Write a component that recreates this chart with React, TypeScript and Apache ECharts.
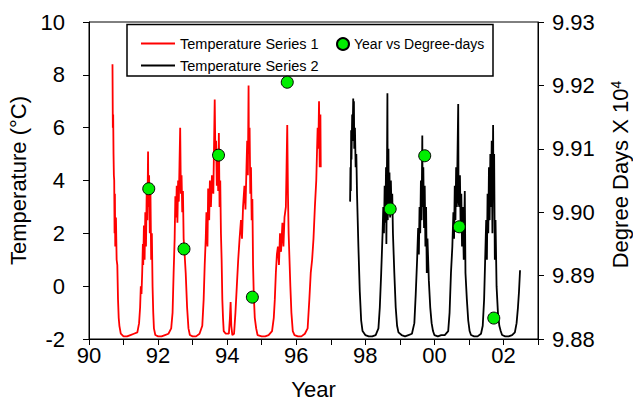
import React, { useEffect, useRef } from "react";
import * as echarts from "echarts";

// Temperature Series 1 (year, °C)
const tempSeries1: [number, number][] = [
  [90.68, 8.4], [90.69, 6.0], [90.7, 6.5], [90.71, 5.0], [90.72, 4.2], [90.73, 4.0], [90.74, 2.0],
  [90.75, 3.5], [90.76, 1.5], [90.78, 2.6], [90.8, 1.0], [90.82, 0.8], [90.84, -0.5], [90.86, -1.2],
  [90.88, -1.5], [90.92, -1.8], [91.0, -1.9], [91.1, -1.9], [91.2, -1.85], [91.3, -1.8], [91.4, -1.75],
  [91.45, -1.4], [91.48, -0.8], [91.5, 0.0], [91.52, -0.3], [91.54, 0.5], [91.56, 1.6], [91.57, 0.8],
  [91.59, 2.3], [91.61, 1.0], [91.63, 2.8], [91.65, 1.5], [91.67, 3.5], [91.69, 2.5], [91.71, 5.1],
  [91.72, 3.0], [91.74, 4.2], [91.76, 2.0], [91.78, 3.5], [91.8, 1.0], [91.82, 2.0], [91.84, 0.0],
  [91.86, -1.0], [91.88, -1.6], [91.92, -1.85], [92.0, -1.9], [92.1, -1.9], [92.2, -1.85], [92.3, -1.8],
  [92.38, -1.6], [92.42, -1.0], [92.45, 0.5], [92.48, 1.8], [92.5, 3.4], [92.52, 2.6], [92.54, 3.8],
  [92.56, 2.4], [92.58, 4.0], [92.6, 3.2], [92.62, 4.6], [92.64, 6.0], [92.66, 3.5], [92.68, 4.2],
  [92.7, 2.8], [92.72, 3.6], [92.74, 1.8], [92.76, 1.4], [92.8, 0.5], [92.84, -0.8], [92.88, -1.6],
  [92.92, -1.85], [93.0, -1.9], [93.1, -1.9], [93.2, -1.8], [93.28, -1.5], [93.32, -0.5], [93.35, 0.8],
  [93.38, 1.8], [93.4, 2.8], [93.43, 1.5], [93.45, 3.7], [93.48, 2.5], [93.5, 4.0], [93.53, 3.0],
  [93.56, 4.2], [93.6, 3.5], [93.64, 7.07], [93.66, 4.8], [93.68, 5.5], [93.7, 3.8], [93.72, 5.0],
  [93.74, 3.6], [93.76, 5.8], [93.78, 3.0], [93.8, 4.0], [93.82, 2.0], [93.84, 1.0], [93.86, -0.5],
  [93.88, -1.2], [93.9, -1.7], [93.96, -1.8], [94.05, -1.8], [94.08, -1.2], [94.1, -0.6], [94.12, -1.5],
  [94.15, -1.85], [94.2, -1.8], [94.24, -1.0], [94.28, 0.0], [94.32, 1.0], [94.36, 1.8], [94.4, 2.5],
  [94.43, 1.8], [94.46, 3.0], [94.5, 3.8], [94.53, 2.9], [94.56, 4.5], [94.58, 5.5], [94.6, 4.2],
  [94.62, 7.6], [94.63, 5.0], [94.65, 6.0], [94.67, 3.5], [94.69, 4.5], [94.71, 2.5], [94.73, 3.3],
  [94.75, 0.8], [94.77, -0.3], [94.8, -1.2], [94.84, -1.6], [94.88, -1.85], [95.0, -1.9], [95.1, -1.9],
  [95.2, -1.85], [95.3, -1.7], [95.35, -1.2], [95.38, -0.5], [95.41, 0.5], [95.44, 1.2], [95.47, 1.5],
  [95.5, 0.8], [95.53, 2.0], [95.56, 1.3], [95.6, 2.4], [95.63, 1.5], [95.66, 2.6], [95.7, 3.0],
  [95.72, 4.5], [95.74, 6.1], [95.76, 3.5], [95.78, 2.0], [95.8, 1.2], [95.83, 0.0], [95.86, -1.0],
  [95.9, -1.7], [95.95, -1.85], [96.05, -1.9], [96.15, -1.9], [96.25, -1.8], [96.33, -1.6], [96.38, -0.5],
  [96.42, 0.5], [96.46, 1.0], [96.5, 1.8], [96.54, 3.0], [96.58, 4.0], [96.6, 5.0], [96.62, 6.0],
  [96.64, 5.2], [96.66, 7.0], [96.68, 4.5], [96.7, 6.5], [96.71, 4.5],
];

// Temperature Series 2 (year, °C)
const tempSeries2: [number, number][] = [
  [97.56, 3.2], [97.57, 4.5], [97.58, 3.6], [97.59, 5.9], [97.6, 4.8], [97.62, 6.5], [97.63, 5.5],
  [97.65, 7.1], [97.66, 6.0], [97.67, 7.0], [97.68, 5.2], [97.7, 6.0], [97.72, 4.5], [97.74, 5.0],
  [97.76, 3.5], [97.8, 1.5], [97.84, -0.2], [97.88, -1.3], [97.92, -1.7], [98.0, -1.85], [98.1, -1.9],
  [98.2, -1.9], [98.3, -1.85], [98.38, -1.6], [98.42, -0.8], [98.46, 0.5], [98.5, 2.0], [98.52, 3.0],
  [98.54, 2.0], [98.56, 3.8], [98.58, 2.4], [98.6, 4.5], [98.61, 1.6], [98.63, 5.0], [98.64, 7.3],
  [98.65, 2.5], [98.67, 5.2], [98.68, 3.0], [98.7, 4.3], [98.72, 2.6], [98.74, 4.0], [98.76, 2.8],
  [98.78, 3.5], [98.8, 2.0], [98.84, 0.5], [98.88, -0.8], [98.92, -1.5], [98.96, -1.75], [99.05, -1.85],
  [99.15, -1.9], [99.25, -1.85], [99.35, -1.8], [99.42, -1.4], [99.46, -0.3], [99.5, 1.0], [99.53, 2.2],
  [99.55, 1.2], [99.57, 3.0], [99.59, 2.0], [99.61, 4.0], [99.63, 2.5], [99.65, 5.7], [99.66, 3.0],
  [99.68, 4.5], [99.7, 2.2], [99.72, 3.8], [99.74, 1.5], [99.76, 3.0], [99.78, 0.5], [99.8, 1.8],
  [99.84, 0.2], [99.88, -0.8], [99.92, -1.4], [99.96, -1.7], [100.0, -1.85], [100.1, -1.9], [100.2, -1.85],
  [100.3, -1.85], [100.4, -1.7], [100.44, -1.0], [100.48, 0.5], [100.52, 1.5], [100.55, 2.8], [100.57, 1.8],
  [100.59, 3.8], [100.61, 2.5], [100.63, 4.5], [100.65, 3.0], [100.67, 5.0], [100.69, 6.9], [100.7, 3.2],
  [100.72, 3.0], [100.74, 4.2], [100.76, 2.2], [100.78, 3.5], [100.8, 1.5], [100.82, 3.0], [100.85, 1.0],
  [100.88, 3.6], [100.9, 0.5], [100.94, -0.5], [100.98, -1.3], [101.02, -1.7], [101.06, -1.85], [101.15, -1.9],
  [101.25, -1.9], [101.35, -1.8], [101.4, -1.5], [101.44, -0.5], [101.47, 1.0], [101.5, 2.5], [101.52, 1.0],
  [101.54, 3.5], [101.56, 2.0], [101.58, 4.5], [101.6, 2.5], [101.62, 5.0], [101.64, 3.0], [101.66, 5.5],
  [101.68, 2.0], [101.7, 6.1], [101.71, 3.5], [101.73, 5.0], [101.75, 1.0], [101.77, 2.5], [101.8, 0.0],
  [101.84, -1.0], [101.88, -1.5], [101.92, -1.7], [101.96, -1.85], [102.05, -1.9], [102.15, -1.9],
  [102.25, -1.85], [102.33, -1.75], [102.38, -1.4], [102.42, -0.8], [102.45, -0.2], [102.48, 0.6],
];

// Year vs Degree-days (x 10^4)
const ddYears = [91.73, 92.75, 93.75, 94.73, 95.74, 98.72, 99.72, 100.72, 101.72];
const ddValues = [9.9037, 9.8942, 9.909, 9.8866, 9.9205, 9.9005, 9.9089, 9.8977, 9.8833];

const FONT = "'Liberation Sans', Arial, sans-serif";
const LINE_ICON = "path://M0,0H34V2H0Z";

export default function App() {
  const ref = useRef<HTMLDivElement>(null);
  useEffect(() => {
    if (!ref.current) return;
    const chart = echarts.init(ref.current, undefined, { renderer: "svg" });
    const axisLine = { show: true, onZero: false, lineStyle: { color: "#000", width: 1 } };
    const axisTick = { show: true, length: 6, lineStyle: { color: "#000", width: 1 } };
    chart.setOption({
      animation: false,
      backgroundColor: "#fff",
      textStyle: { fontFamily: FONT },
      grid: {
        left: 89,
        right: 95,
        top: 22,
        bottom: 64,
        containLabel: false,
        outerBoundsMode: "none",
        show: true,
        borderColor: "#000",
        borderWidth: 1,
      },
      legend: [
        {
          data: [
            { name: "Temperature Series 1", icon: LINE_ICON },
            { name: "Temperature Series 2", icon: LINE_ICON },
          ],
          orient: "vertical",
          left: 136,
          top: 31,
          itemWidth: 34,
          itemHeight: 15,
          itemGap: 7,
          textStyle: { fontSize: 14.5, color: "#000", fontFamily: FONT },
        },
        {
          data: ["Year vs Degree-days"],
          orient: "horizontal",
          left: 331,
          top: 32,
          itemWidth: 12,
          itemHeight: 12,
          icon: "circle",
          textStyle: { fontSize: 14, color: "#000", fontFamily: FONT },
        },
      ],
      graphic: [
        {
          type: "rect",
          z: 3,
          shape: { x: 127, y: 24.5, width: 366, height: 51.5 },
          style: { fill: "#fff", stroke: "#000", lineWidth: 1.5 },
        },
      ],
      xAxis: {
        type: "value",
        min: 90,
        max: 103,
        interval: 1,
        name: "Year",
        nameLocation: "middle",
        nameGap: 39,
        nameTextStyle: { fontSize: 22, color: "#000", fontFamily: FONT },
        axisLine,
        axisTick,
        splitLine: { show: false },
        axisLabel: {
          fontSize: 22,
          color: "#000",
          fontFamily: FONT,
          margin: 5,
          formatter: (v: number) => {
            const r = Math.round(v);
            return r % 2 === 0 ? String(r % 100).padStart(2, "0") : "";
          },
        },
      },
      yAxis: [
        {
          type: "value",
          min: -2,
          max: 10,
          interval: 2,
          position: "left",
          name: "Temperature (°C)",
          nameLocation: "middle",
          nameRotate: 90,
          nameGap: 54,
          nameTextStyle: { fontSize: 22, color: "#000", fontFamily: FONT },
          axisLine,
          axisTick,
          splitLine: { show: false },
          axisLabel: { fontSize: 22, color: "#000", fontFamily: FONT, margin: 24 },
        },
        {
          type: "value",
          min: 9.88,
          max: 9.93,
          interval: 0.01,
          position: "right",
          name: "Degree Days X 10{sup|4}",
          nameLocation: "middle",
          nameRotate: 90,
          nameGap: 71,
          nameTextStyle: {
            fontSize: 22,
            lineHeight: 22,
            color: "#000",
            fontFamily: FONT,
            padding: [0, 0, 0, 12],
            rich: {
              sup: { fontSize: 14, lineHeight: 14, color: "#000", fontFamily: FONT, verticalAlign: "top" },
            },
          },
          axisLine,
          axisTick,
          splitLine: { show: false },
          axisLabel: {
            fontSize: 22,
            color: "#000",
            fontFamily: FONT,
            margin: 14,
            formatter: (v: number) => v.toFixed(2),
          },
        },
      ],
      series: [
        {
          name: "Temperature Series 1",
          type: "line",
          data: tempSeries1,
          symbol: "none",
          lineStyle: { color: "#ff0000", width: 1.8 },
          itemStyle: { color: "#ff0000" },
          z: 2,
        },
        {
          name: "Temperature Series 2",
          type: "line",
          data: tempSeries2,
          symbol: "none",
          lineStyle: { color: "#000000", width: 1.8 },
          itemStyle: { color: "#000000" },
          z: 2,
        },
        {
          name: "Year vs Degree-days",
          type: "scatter",
          yAxisIndex: 1,
          data: ddYears.map((y, i) => [y, ddValues[i]]),
          symbol: "circle",
          symbolSize: 12,
          itemStyle: { color: "#00ee00", borderColor: "#000", borderWidth: 1, opacity: 1 },
          z: 5,
        },
      ],
    });
    return () => chart.dispose();
  }, []);
  return (
    <div
      ref={ref}
      style={{ position: "absolute", left: 0, top: 0, width: 633, height: 403 }}
    />
  );
}
